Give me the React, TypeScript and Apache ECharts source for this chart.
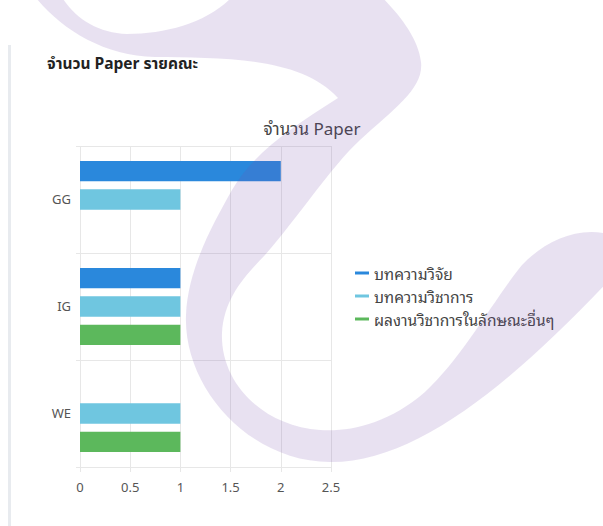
import React, { useEffect, useRef } from "react";
import * as echarts from "echarts";

// Faculties shown on the category axis, top to bottom
const categories = ["GG", "IG", "WE"];
// Legend / series names
const seriesNames = ["บทความวิจัย", "บทความวิชาการ", "ผลงานวิชาการในลักษณะอื่นๆ"];
// Paper counts per faculty for each series
const researchPapers = [2, 1, 0];
const academicArticles = [1, 1, 1];
const otherWorks = [0, 1, 1];
// Value-axis ticks
const xMin = 0;
const xMax = 2.5;
const xStep = 0.5;

const cardTitle = "จำนวน Paper รายคณะ";
const chartTitle = "จำนวน Paper";

const seriesColors = ["#2a88dc", "#6fc6e0", "#5cb85c"];
const FONT = '"Noto Sans Thai", "Open Sans", "Noto Sans", sans-serif';
const LOOPED_FONT = '"Noto Sans Thai Looped", "Noto Sans Thai", "Open Sans", "Noto Sans", sans-serif';

// Lavender swirl watermark laid over the page (page pixel coordinates)
const SWIRL_PATH =
  "M 30 -10 " +
  "C 55 25 100 56 155 57 " +
  "C 220 58 300 56 338 98 " +
  "C 290 128 252 155 232 190 " +
  "C 213 224 188 268 186 315 " +
  "C 183 388 250 462 330 462 " +
  "C 420 463 520 375 615 274 " +
  "L 615 236 L 603 233 " +
  "C 572 228 542 244 522 265 " +
  "C 495 298 462 358 425 392 " +
  "C 388 424 350 432 320 430 " +
  "C 262 426 220 382 222 333 " +
  "C 224 298 245 276 265 255 " +
  "C 300 215 330 168 360 140 " +
  "C 395 108 424 88 421 62 " +
  "C 418 35 395 10 375 -10 " +
  "L 238 -10 " +
  "C 215 20 170 34 127 34 " +
  "C 95 33 70 15 58 -10 Z";

echarts.graphic.registerShape("swirl", echarts.graphic.extendPath(SWIRL_PATH, {}));

export default function App() {
  const ref = useRef<HTMLDivElement>(null);

  useEffect(() => {
    if (!ref.current) return;
    const chart = echarts.init(ref.current, undefined, { renderer: "svg" });
    const gridColor = "#e7e7e7";
    const values = [researchPapers, academicArticles, otherWorks];

    chart.setOption({
      animation: false,
      backgroundColor: "#ffffff",
      textStyle: { fontFamily: FONT },
      grid: { left: 80, right: 272, top: 146, bottom: 59 },
      legend: {
        orient: "vertical",
        left: 350,
        top: 260,
        icon: "rect",
        itemWidth: 14,
        itemHeight: 3,
        itemGap: 7,
        data: seriesNames,
        textStyle: { fontSize: 15.5, color: "#444", lineHeight: 16, fontFamily: LOOPED_FONT },
      },
      xAxis: {
        type: "value",
        min: xMin,
        max: xMax,
        interval: xStep,
        axisLine: { show: false },
        axisTick: { show: true, length: 5, lineStyle: { color: gridColor } },
        splitLine: { show: true, lineStyle: { color: gridColor } },
        axisLabel: { color: "#555", fontSize: 13, margin: 14, fontFamily: FONT },
      },
      yAxis: {
        type: "category",
        data: categories,
        inverse: true,
        axisLine: { show: false },
        axisTick: { show: true, length: 4, lineStyle: { color: gridColor } },
        splitLine: { show: true, lineStyle: { color: gridColor } },
        axisLabel: { color: "#555", fontSize: 13, margin: 9, fontFamily: FONT },
      },
      series: seriesNames.map((name, i) => ({
        name,
        type: "bar",
        data: values[i],
        barCategoryGap: "28%",
        barGap: "40%",
        itemStyle: { color: seriesColors[i] },
      })),
      graphic: [
        {
          type: "rect",
          silent: true,
          shape: { x: 8, y: 45, width: 3, height: 500 },
          style: { fill: "#e8ebef" },
        },
        {
          type: "text",
          silent: true,
          x: 47,
          y: 64,
          style: {
            text: cardTitle,
            font: `bold 15.5px ${FONT}`,
            fill: "#222",
            verticalAlign: "middle",
          },
        },
        {
          type: "text",
          silent: true,
          x: 312,
          y: 127,
          style: {
            text: chartTitle,
            font: `17px ${LOOPED_FONT}`,
            fill: "#444",
            align: "center",
            verticalAlign: "middle",
          },
        },
        {
          type: "swirl",
          silent: true,
          z: 100,
          x: 0,
          y: 0,
          style: { fill: "rgba(120, 80, 170, 0.17)" },
        },
      ],
    });

    return () => chart.dispose();
  }, []);

  return (
    <div
      ref={ref}
      style={{ position: "fixed", left: 0, top: 0, width: 603, height: 526 }}
    />
  );
}
